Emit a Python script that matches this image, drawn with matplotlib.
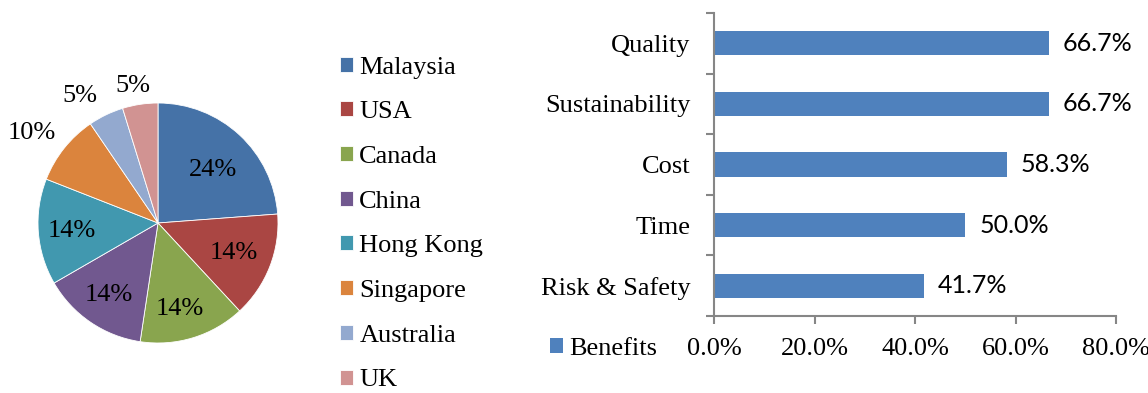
import matplotlib
matplotlib.use('Agg')
import matplotlib.pyplot as plt
import numpy as np

# pie data: number of studies by country (shown as percentages)
countries = ['Malaysia', 'USA', 'Canada', 'China', 'Hong Kong', 'Singapore', 'Australia', 'UK']
counts = [5, 3, 3, 3, 3, 2, 1, 1]
pie_colors = ['#4572A7', '#AA4643', '#89A54E', '#71588F', '#4198AF', '#DB843D', '#93A9CF', '#D19392']

# bar data: benefits
benefits = ['Risk & Safety', 'Time', 'Cost', 'Sustainability', 'Quality']
benefit_vals = [41.7, 50.0, 58.3, 66.7, 66.7]
bar_color = '#4F81BD'

serif = 'Liberation Serif'
fs = 19

fig = plt.figure(figsize=(11.48, 3.93), dpi=100)

# ---- pie ----
axp = fig.add_axes([38 / 1148, 50 / 393, 240 / 1148, 240 / 393])
wedges, _ = axp.pie(counts, colors=pie_colors, startangle=90, counterclock=False,
                    radius=1, wedgeprops=dict(edgecolor='white', linewidth=0.6))
axp.set_xlim(-1, 1)
axp.set_ylim(-1, 1)
axp.axis('off')

# label radius / angle nudge for each slice (excel "best fit" style)
label_r = [0.64, 0.68, 0.74, 0.73, 0.72, 1.29, 1.24, 1.16]
label_da = [-3, 0, -3, 0, 1, 3, 6, 2]
total = sum(counts)
for w, c, r, da in zip(wedges, counts, label_r, label_da):
    ang = np.deg2rad((w.theta1 + w.theta2) / 2 + da)
    axp.text(r * np.cos(ang), r * np.sin(ang), '%d%%' % round(100 * c / total),
             ha='center', va='center', fontsize=fs, family=serif, clip_on=False)

fig.legend(wedges, countries, loc='upper left', bbox_to_anchor=(329 / 1148, 1 - 46 / 393),
           frameon=False, prop=dict(family=serif, size=fs), handlelength=0.5, handleheight=0.5,
           handletextpad=0.25, labelspacing=0.86, borderaxespad=0)

# ---- bars ----
axb = fig.add_axes([714 / 1148, 77 / 393, 402 / 1148, 303 / 393])
y = np.arange(len(benefits))
bars = axb.barh(y, benefit_vals, height=0.4, color=bar_color, label='Benefits')
axb.set_xlim(0, 80)
axb.set_ylim(-0.5, len(benefits) - 0.5)
axb.set_xticks(np.arange(0, 81, 20))
axb.set_xticklabels(['%.1f%%' % v for v in np.arange(0, 81, 20)], family=serif, fontsize=fs)
axb.set_yticks(y)
axb.set_yticklabels(benefits, family=serif, fontsize=fs)
axb.set_yticks(np.arange(-0.5, len(benefits)), minor=True)
axb.tick_params(axis='y', which='major', length=0, pad=17)
axb.tick_params(axis='y', which='minor', length=6, width=1.5, color='#868686')
axb.tick_params(axis='x', length=6, width=1.5, color='#868686', pad=10)
for s in ['top', 'right']:
    axb.spines[s].set_visible(False)
for s in ['left', 'bottom']:
    axb.spines[s].set_color('#868686')
    axb.spines[s].set_linewidth(1.5)
axb.bar_label(bars, labels=['%.1f%%' % v for v in benefit_vals], padding=10,
              fontsize=fs - 1, family='Lato')

fig.legend(handles=[bars], labels=['Benefits'], loc='center left',
           bbox_to_anchor=(539 / 1148, 1 - 349 / 393), frameon=False,
           prop=dict(family=serif, size=fs), handlelength=0.5, handleheight=0.5,
           handletextpad=0.25, borderaxespad=0)

fig.savefig('out.png', dpi=100)
